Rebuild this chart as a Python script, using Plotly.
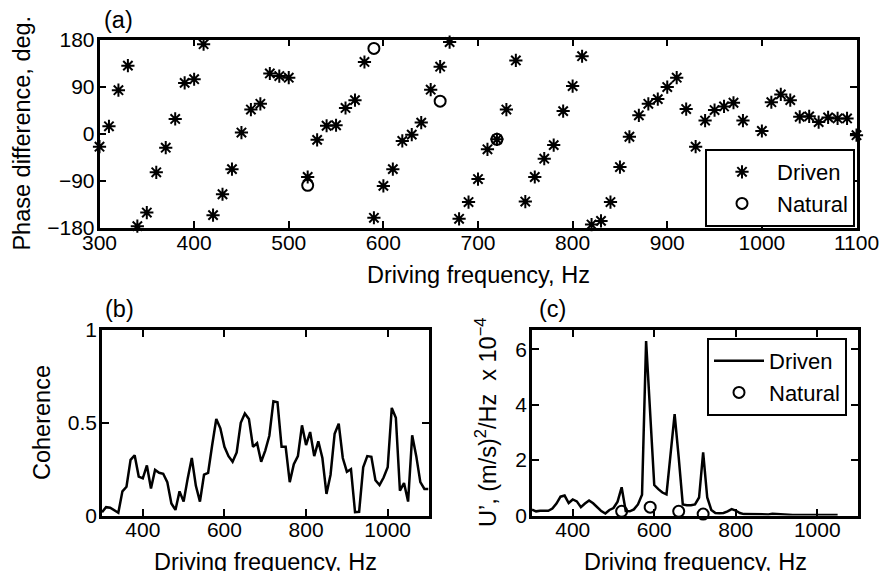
import plotly.graph_objects as go

# ---------------- data ----------------
# (a) phase difference
freq_a = [300, 310, 320, 330, 340, 350, 360, 370, 380, 390, 400, 410, 420, 430, 440, 450,
          460, 470, 480, 490, 500, 520, 530, 540, 550, 560, 570, 580, 590, 600, 610, 620,
          630, 640, 650, 660, 670, 680, 690, 700, 710, 720, 730, 740, 750, 760, 770, 780,
          790, 800, 810, 820, 830, 840, 850, 860, 870, 880, 890, 900, 910, 920, 930, 940,
          950, 960, 970, 980, 1000, 1010, 1020, 1030, 1040, 1050, 1060, 1070, 1080, 1090, 1100]
phase_driven = [-25, 14, 83, 130, -177, -151, -74, -27, 28, 97, 104, 171, -156, -116, -68, 2,
                46, 57, 115, 110, 107, -83, -12, 15, 16, 49, 64, 137, -161, -100, -68, -14,
                -2, 21, 84, 128, 175, -163, -131, -87, -30, -11, 46, 140, -130, -83, -48, -22,
                43, 91, 148, -174, -167, -131, -64, -6, 35, 57, 66, 89, 107, 47, -25, 25,
                45, 52, 59, 25, 5, 60, 75, 64, 32, 33, 22, 31, 29, 29, -3]
freq_natural = [520, 590, 660, 720]
phase_natural = [-99, 163, 62, -11]

# (b) coherence
freq_b = list(range(300, 1101, 10))
coherence = [0.018, 0.045, 0.042, 0.027, 0.015, 0.13, 0.155, 0.30, 0.325, 0.21,
             0.20, 0.27, 0.146, 0.246, 0.23, 0.225, 0.18, 0.065, 0.03, 0.13,
             0.075, 0.20, 0.31, 0.16, 0.075, 0.22, 0.23, 0.38, 0.52, 0.47,
             0.37, 0.32, 0.29, 0.34, 0.50, 0.55, 0.52, 0.37, 0.39, 0.29,
             0.35, 0.43, 0.616, 0.61, 0.37, 0.37, 0.18, 0.277, 0.32, 0.486,
             0.38, 0.45, 0.32, 0.40, 0.31, 0.116, 0.22, 0.44, 0.495, 0.31,
             0.236, 0.25, 0.018, 0.02, 0.26, 0.32, 0.316, 0.19, 0.164, 0.205,
             0.26, 0.58, 0.527, 0.134, 0.175, 0.075, 0.432, 0.32, 0.18, 0.143, 0.143]

# (c) velocity spectrum, units of 1e-4 (m/s)^2/Hz
freq_c = list(range(300, 1051, 10))
psd_driven = [0.21, 0.15, 0.17, 0.17, 0.17, 0.25, 0.43, 0.68, 0.72, 0.45,
              0.58, 0.51, 0.30, 0.43, 0.54, 0.44, 0.30, 0.16, 0.07, 0.20,
              0.27, 0.50, 1.02, 0.16, 0.15, 0.22, 0.40, 0.75, 6.30, 3.60,
              1.10, 0.95, 0.83, 0.76, 2.20, 3.66, 2.10, 0.40, 0.37, 0.37,
              0.40, 0.65, 2.28, 0.65, 0.20, 0.09, 0.085, 0.09, 0.15, 0.23,
              0.18, 0.09, 0.05, 0.05, 0.04, 0.03, 0.03, 0.03, 0.04, 0.06,
              0.05, 0.03, 0.02, 0.02, 0.02, 0.02, 0.02, 0.02, 0.02, 0.02,
              0.02, 0.02, 0.02, 0.02, 0.02, 0.02]
psd_natural = [0.15, 0.30, 0.15, 0.05]

# ---------------- figure ----------------
W, H = 883, 571
FONT = "Liberation Sans, Arial, Helvetica, sans-serif"
TICK_FS = 21
LABEL_FS = 23.5
LEG_FS = 22


def px(x):
    return x / W


def py(y):
    return 1 - y / H


fig = go.Figure()

fig.add_trace(go.Scatter(x=freq_a, y=phase_driven, mode="markers", name="Driven",
                         marker=dict(symbol="asterisk-open", size=11, color="black",
                                     line=dict(color="black", width=2)),
                         cliponaxis=False, xaxis="x", yaxis="y", legend="legend"))
fig.add_trace(go.Scatter(x=freq_natural, y=phase_natural, mode="markers", name="Natural",
                         marker=dict(symbol="circle-open", size=11, color="black",
                                     line=dict(color="black", width=2)),
                         cliponaxis=False, xaxis="x", yaxis="y", legend="legend"))

fig.add_trace(go.Scatter(x=freq_b, y=coherence, mode="lines", showlegend=False,
                         line=dict(color="black", width=2.5), xaxis="x2", yaxis="y2"))

fig.add_trace(go.Scatter(x=freq_c, y=psd_driven, mode="lines", name="Driven",
                         line=dict(color="black", width=2.5), cliponaxis=False,
                         xaxis="x3", yaxis="y3", legend="legend2"))
fig.add_trace(go.Scatter(x=freq_natural, y=psd_natural, mode="markers", name="Natural",
                         marker=dict(symbol="circle-open", size=11, color="black",
                                     line=dict(color="black", width=2)),
                         cliponaxis=False, xaxis="x3", yaxis="y3", legend="legend2"))

axcommon = dict(showline=True, linecolor="black", linewidth=2.5, mirror="ticks",
                ticks="inside", ticklen=7, tickwidth=1.5, tickcolor="black",
                showgrid=False, zeroline=False, automargin=False,
                tickfont=dict(family=FONT, size=TICK_FS, color="black"))
xcommon = dict(ticklabelstandoff=-6, **axcommon)
ycommon = dict(ticklabelstandoff=-2, **axcommon)

fig.update_layout(
    width=W, height=H,
    margin=dict(l=0, r=0, t=0, b=0),
    paper_bgcolor="white", plot_bgcolor="white",
    font=dict(family=FONT, size=LABEL_FS, color="black"),
    xaxis=dict(domain=[px(99.5), px(856.5)], range=[300, 1100],
               tickvals=[300, 400, 500, 600, 700, 800, 900, 1000, 1100], anchor="y", **xcommon),
    yaxis=dict(domain=[py(227.7), py(39.5)], range=[-180, 180],
               tickvals=[-180, -90, 0, 90, 180], anchor="x", **ycommon),
    xaxis2=dict(domain=[px(102), px(428.5)], range=[300, 1100],
                tickvals=[400, 600, 800, 1000], anchor="y2", **xcommon),
    yaxis2=dict(domain=[py(515.5), py(330)], range=[0, 1],
                tickvals=[0, 0.5, 1], ticktext=["0", "0.5", "1"], anchor="x2", **ycommon),
    xaxis3=dict(domain=[px(532), px(858)], range=[300, 1100],
                tickvals=[400, 600, 800, 1000], anchor="y3", **xcommon),
    yaxis3=dict(domain=[py(515.5), py(330)], range=[0, 6.7],
                tickvals=[0, 2, 4, 6], anchor="x3", **ycommon),
    legend=dict(x=px(855), xanchor="right", y=py(227), yanchor="bottom",
                bgcolor="white", bordercolor="black", borderwidth=2,
                font=dict(family=FONT, size=LEG_FS, color="black"),
                itemwidth=60, tracegroupgap=0),
    legend2=dict(x=px(847), xanchor="right", y=py(338), yanchor="top",
                 bgcolor="white", bordercolor="black", borderwidth=2,
                 font=dict(family=FONT, size=LEG_FS, color="black"),
                 itemwidth=50, tracegroupgap=0),
)

ann = [
    dict(text="(a)", x=px(102), y=py(20), xanchor="left", yanchor="middle"),
    dict(text="(b)", x=px(103), y=py(309), xanchor="left", yanchor="middle"),
    dict(text="(c)", x=px(537), y=py(309), xanchor="left", yanchor="middle"),
    dict(text="Phase difference, deg.", x=px(22), y=py(133.6), textangle=-90,
         xanchor="center", yanchor="middle"),
    dict(text="Driving frequency, Hz", x=px(478), y=py(275), xanchor="center", yanchor="middle"),
    dict(text="Coherence", x=px(42), y=py(423), textangle=-90,
         xanchor="center", yanchor="middle"),
    dict(text="Driving frequency, Hz", x=px(265), y=py(562), xanchor="center", yanchor="middle"),
    dict(text="U\u2019, (m/s)<sup>2</sup>/Hz\u00a0\u00a0x 10<sup>\u22124</sup>",
         x=px(486), y=py(422), textangle=-90, xanchor="center", yanchor="middle"),
    dict(text="Driving frequency, Hz", x=px(695), y=py(562), xanchor="center", yanchor="middle"),
]
for a in ann:
    a.update(xref="paper", yref="paper", showarrow=False,
             font=dict(family=FONT, size=LABEL_FS, color="black"))
fig.update_layout(annotations=ann)

fig.write_html("out.html",
               config={"displayModeBar": False},
               post_script="document.body.style.margin='0';"
                           "document.body.style.overflow='hidden';")
